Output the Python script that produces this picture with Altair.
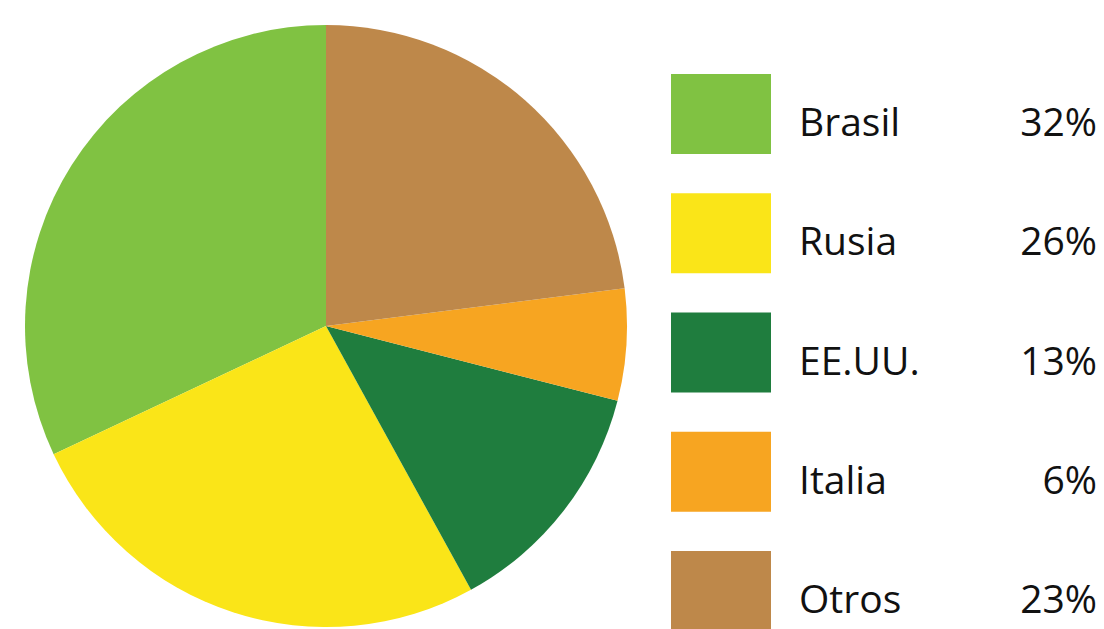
import altair as alt
import pandas as pd

categories = ["Brasil", "Rusia", "EE.UU.", "Italia", "Otros"]
values = [32, 26, 13, 6, 23]
colors = ["#80C242", "#FAE518", "#1F7D3E", "#F7A521", "#BE884A"]
pie_order = ["Otros", "Italia", "EE.UU.", "Rusia", "Brasil"]

df = pd.DataFrame({
    "pais": categories,
    "valor": values,
    "orden": [pie_order.index(c) for c in categories],
    "pct": [f"{v}%" for v in values],
})

color = alt.Color("pais:N", scale=alt.Scale(domain=categories, range=colors), legend=None)
yband = alt.Y("pais:N", sort=categories, axis=None,
              scale=alt.Scale(type="band", range=[66, 623], paddingInner=0.329, paddingOuter=0))

base = alt.Chart(df)

pie = base.mark_arc(radius=301, stroke=None).encode(
    theta=alt.Theta("valor:Q", stack=True),
    order=alt.Order("orden:Q"),
    color=color,
    x=alt.value(318),
    y=alt.value(318),
)

boxes = base.mark_rect().encode(
    y=yband,
    x=alt.value(663),
    x2=alt.value(763),
    color=color,
)

font = "Open Sans"
names = base.mark_text(align="left", baseline="alphabetic", dy=22, fontSize=39,
                       font=font, color="#111111").encode(
    y=yband, x=alt.value(791), text="pais:N")

pcts = base.mark_text(align="right", baseline="alphabetic", dy=22, fontSize=39,
                      font=font, color="#111111").encode(
    y=yband, x=alt.value(1089), text="pct:N")

chart = alt.layer(pie, boxes, names, pcts).properties(
    width=1088, height=621, autosize=alt.AutoSizeParams(type="none"), padding=0
).configure_view(strokeWidth=0)

chart.save("out.html", embed_options={"renderer": "svg", "actions": False})
